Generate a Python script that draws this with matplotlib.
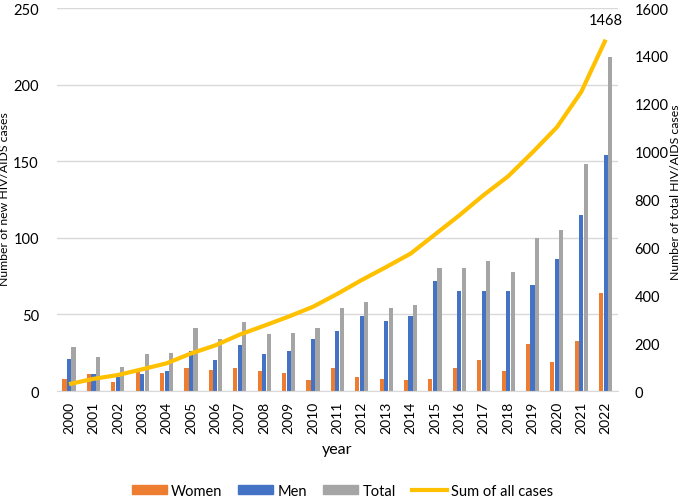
import numpy as np
from matplotlib import pyplot as plt
from matplotlib.patches import Patch
from matplotlib.lines import Line2D

years = [str(y) for y in range(2000, 2023)]
women = [8, 11, 6, 13, 12, 15, 14, 15, 13, 12, 7, 15, 9, 8, 7, 8, 15, 20, 13, 31, 19, 33, 64]
men = [21, 11, 9, 11, 13, 26, 20, 30, 24, 26, 34, 39, 49, 46, 49, 72, 65, 65, 65, 69, 86, 115, 154]
total = [29, 22, 16, 24, 25, 41, 34, 45, 37, 38, 41, 54, 58, 54, 56, 80, 80, 85, 78, 100, 105, 148, 218]
sum_all = [29, 51, 67, 91, 116, 157, 191, 236, 273, 311, 352, 406, 464, 518, 574, 654, 734, 819, 897,
           997, 1102, 1250, 1468]

c_women = '#ED7D31'
c_men = '#4472C4'
c_total = '#A5A5A5'
c_sum = '#FFC000'

plt.rcParams['font.family'] = ['Lato', 'DejaVu Sans']

fig = plt.figure(figsize=(6.85, 5.02), dpi=100)
ax = fig.add_axes([0.083, 0.219, 0.819, 0.763])
x = np.arange(len(years))
w = 0.17
ax.bar(x - 0.185, women, w, color=c_women, zorder=2)
ax.bar(x, men, w, color=c_men, zorder=2)
ax.bar(x + 0.185, total, w, color=c_total, zorder=2)
ax.set_xlim(-0.5, len(years) - 0.5)
ax.set_ylim(0, 250)
ax.set_yticks(range(0, 251, 50))
ax.yaxis.grid(True, color='#D9D9D9', linewidth=1, zorder=0)
ax.set_axisbelow(True)
for s in ['top', 'left', 'right']:
    ax.spines[s].set_visible(False)
ax.spines['bottom'].set_color('#D9D9D9')
ax.set_xticks(x)
ax.set_xticklabels(years, rotation=90, fontsize=10)
ax.tick_params(axis='x', length=0, pad=7)
ax.tick_params(axis='y', length=0, labelsize=10.5, pad=13)
ax.set_ylabel('Number of new HIV/AIDS cases', fontsize=8.8)
ax.yaxis.set_label_coords(-0.084, 0.504)
ax.set_xlabel('year', fontsize=11.5)
ax.xaxis.set_label_coords(0.5, -0.133)

ax2 = ax.twinx()
ax2.plot(x, sum_all, color=c_sum, linewidth=3, solid_capstyle='butt')
ax2.set_ylim(0, 1600)
ax2.set_yticks(range(0, 1601, 200))
for s in ax2.spines.values():
    s.set_visible(False)
ax2.tick_params(axis='y', length=0, labelsize=10.5, pad=12)
ax2.set_ylabel('Number of total HIV/AIDS cases', fontsize=8.8)
ax2.yaxis.set_label_coords(1.093, 0.522)
ax2.annotate(str(sum_all[-1]), (x[-1], sum_all[-1]), xytext=(0, 9), textcoords='offset points',
             ha='center', va='bottom', fontsize=10.5)

handles = [Patch(color=c_women, label='Women'), Patch(color=c_men, label='Men'),
           Patch(color=c_total, label='Total'), Line2D([], [], color=c_sum, linewidth=3, label='Sum of all cases')]
fig.legend(handles=handles, loc='center', bbox_to_anchor=(0.5, 0.02), ncol=4, frameon=False,
           fontsize=10.5, handlelength=2.4, handleheight=0.6, columnspacing=1.1, handletextpad=0.3)

fig.savefig('out.png', dpi=100)
